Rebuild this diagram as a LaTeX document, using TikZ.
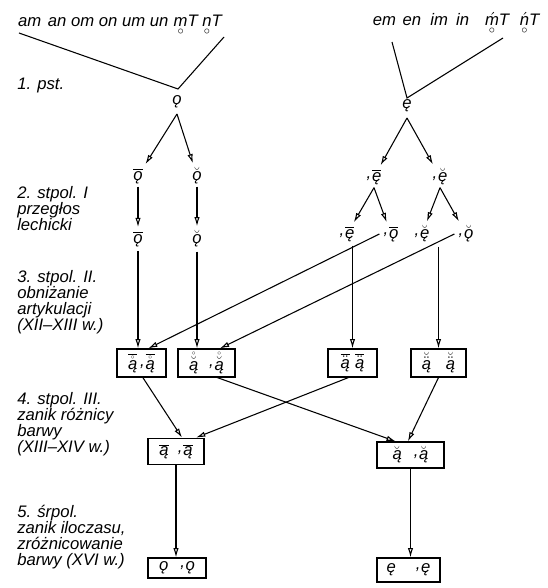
\documentclass[tikz,border=0pt]{standalone}
\usepackage{fontspec}
\setmainfont{Liberation Sans}
\usetikzlibrary{arrows.meta}

\newcommand{\pal}{\raisebox{.35ex}{,}\kern.6pt}
\newcommand{\rng}[1]{\oalign{#1\crcr\hidewidth$\scriptstyle\circ$\hidewidth}}
\newcommand{\ac}[2]{\ensuremath{#1{\mbox{#2}}}}
\newcommand{\acc}[3]{\ensuremath{#1{#2{\mbox{#3}}}}}

\tikzset{
    lbl/.style={font=\itshape\fontsize{12.5}{12}\selectfont, inner sep=0pt},
    stage/.style={lbl, align=left, anchor=north west},
    vow/.style={lbl, inner sep=3pt},
    box/.style={lbl, draw, line width=.8pt},
    ln/.style={line width=.8pt},
    arr/.style={line width=.8pt, -{Latex[open,length=7pt,width=4pt]}}
}

\begin{document}
\begin{tikzpicture}[x=0.75pt,y=-0.75pt]
    \useasboundingbox (0,0) rectangle (548,588);

    % grupy wyjsciowe
    \node[lbl, anchor=base] (srcA) at (120,27) {am\hspace{5pt}an om on um un\hspace{4pt}\rng{m}T \rng{n}T};
    \node[lbl, anchor=base] (srcE) at (456,26) {em\hspace{5pt}en\hspace{7pt}im\hspace{6pt}in\hspace{12pt}\rng{\ac\acute{m}}T\hspace{8pt}\rng{\ac\acute{n}}T};

    \coordinate (aL) at (19,33);
    \coordinate (vA) at (178,89);
    \coordinate (aR) at (224,37);
    \coordinate (eL) at (392,42);
    \coordinate (vE) at (407,98);
    \coordinate (eR) at (503,38);
    \draw[ln] (aL) -- (vA) -- (aR);
    \draw[ln] (eL) -- (vE) -- (eR);

    % etapy
    \node[stage] (s1) at (17,78) {1. pst.};
    \node[stage] (s2) at (17,186) {2. stpol. I\\przegłos\\lechicki};
    \node[stage] (s3) at (17,270) {3. stpol. II.\\obniżanie\\artykulacji\\(XII–XIII w.)};
    \node[stage] (s4) at (17,392) {4. stpol. III.\\zanik różnicy\\barwy\\(XIII–XIV w.)};
    \node[stage] (s5) at (17,505) {5. śrpol.\\zanik iloczasu,\\zróżnicowanie\\barwy (XVI w.)};

    % samogloski
    \node[lbl] (o0) at (177,102) {ǫ};
    \node[lbl] (e0) at (407,106) {ę};

    \node[vow] (oL) at (138,176) {\ac\overline{ǫ}};
    \node[vow] (oS) at (197,176) {\ac\breve{ǫ}};
    \node[vow] (oL2) at (138,239) {\ac\overline{ǫ}};
    \node[vow] (oS2) at (197,239) {\ac\breve{ǫ}};

    \node[vow] (eL1) at (374,177) {\pal\ac\overline{ę}};
    \node[vow] (eS1) at (440,177) {\pal\ac\breve{ę}};
    \node[vow] (eLe) at (347,234) {\pal\ac\overline{ę}};
    \node[vow] (eLo) at (391,234) {\pal\ac\overline{ǫ}};
    \node[vow] (eSe) at (422,234) {\pal\ac\breve{ę}};
    \node[vow] (eSo) at (466,234) {\pal\ac\breve{ǫ}};

    % prostokaty
    \node[box, minimum width=36.75pt, minimum height=21pt] (b1) at (141.5,363) {\acc\overline\mathring{ą}\hspace{2pt}\pal\acc\overline\mathring{ą}};
    \node[box, minimum width=42.75pt, minimum height=21pt] (b2) at (206.5,363) {\acc\mathring\breve{ą}\hspace{8pt}\pal\acc\mathring\breve{ą}};
    \node[box, minimum width=36.75pt, minimum height=21pt] (b3) at (352.5,363) {\acc\overline\ddot{ą}\hspace{4pt}\acc\overline\ddot{ą}};
    \node[box, minimum width=41.25pt, minimum height=21pt] (b4) at (438.5,363) {\acc\breve\ddot{ą}\hspace{11pt}\acc\breve\ddot{ą}};
    \node[box, minimum width=42pt, minimum height=20pt] (b5) at (176,451.5) {\ac\overline{ą}\hspace{7pt}\pal\ac\overline{ą}};
    \node[box, minimum width=50.25pt, minimum height=19.5pt] (b6) at (410.5,455) {\ac\breve{ą}\hspace{9pt}\pal\ac\breve{ą}};
    \node[box, minimum width=43.5pt, minimum height=15pt] (b7) at (177,568) {ǫ\hspace{9pt}\pal ǫ};
    \node[box, minimum width=47.25pt, minimum height=18pt] (b8) at (408.5,570) {ę\hspace{15pt}\pal ę};

    % Strzalki
    \foreach \a/\b in {o0/oL, o0/oS, e0/eL1, e0/eS1}
        \draw[arr] ([yshift=-9pt]\a.center) -- (\b);
    \foreach \a/\b in {oL/oL2, oS/oS2, eL1/eLe, eL1/eLo, eS1/eSe, eS1/eSo}
        \draw[arr] ([yshift=-8pt]\a.center) -- (\b);

    \draw[arr] (oL2.south) -- (oL2.south |- b1.north);
    \draw[arr] (oS2.south) -- (oS2.south |- b2.north);
    \draw[arr] (eLe.south -| b3.north) -- (b3.north);
    \draw[arr] (eSe.south -| b4.north) -- (b4.north);
    \draw[arr] (eLo.west) -- ([xshift=5pt]b1.north);
    \draw[arr] (eSo.west) -- ([xshift=10pt]b2.north);

    \draw[arr] ([xshift=1pt]b1.south) -- ([xshift=4.5pt]b5.north);
    \draw[arr] ([xshift=-3pt]b3.south) -- ([xshift=15pt]b5.north);
    \draw[arr] ([xshift=8pt]b2.south) -- ([xshift=-11pt]b6.north);
    \draw[arr] (b4.south) -- ([xshift=-2pt]b6.north);

    \draw[arr] (b5.south) -- (b5.south |- b7.north);
    \draw[arr] (b6.south) -- (b6.south |- b8.north);
\end{tikzpicture}
\end{document}
